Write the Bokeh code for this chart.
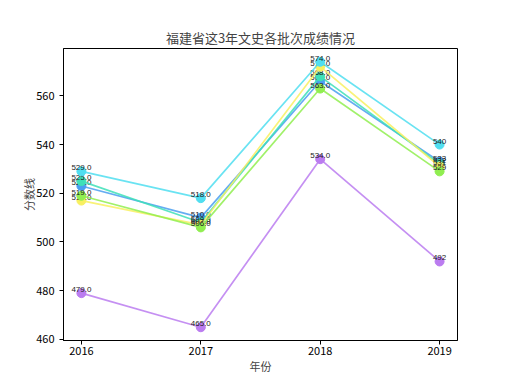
from bokeh.plotting import figure
from bokeh.models import Range1d, FixedTicker, ColumnDataSource
from bokeh.embed import file_html
from bokeh.resources import INLINE

years = [2016, 2017, 2018, 2019]
s_cyan = [529, 518, 574, 540]
s_teal = [525, 508, 568, 532]
s_blue = [523, 510, 566, 533]
s_yellow = [517, 507, 572, 531]
s_green = [519, 506, 563, 529]
s_purple = [479, 465, 534, 492]

series = [
    (s_purple, "#bb7cf0"),
    (s_blue, "#4a9ff0"),
    (s_teal, "#3ee0b8"),
    (s_yellow, "#f8f060"),
    (s_green, "#90ee50"),
    (s_cyan, "#50def0"),
]

FONT = "Noto Sans CJK SC"

p = figure(frame_width=394, frame_height=292, output_backend="svg", toolbar_location=None,
           x_range=Range1d(2015.85, 2019.15), y_range=Range1d(459.55, 579.45),
           min_border_left=63, min_border_right=10, min_border_top=48, min_border_bottom=20)

p.title.text = "福建省这3年文史各批次成绩情况"
p.title.align = "center"
p.title.text_font = FONT
p.title.text_font_size = "13px"
p.title.text_font_style = "normal"
p.title.offset = 0
p.title.standoff = 4

p.xgrid.visible = False
p.ygrid.visible = False
p.outline_line_color = "black"
p.outline_line_width = 1

p.xaxis.ticker = FixedTicker(ticks=years)
p.yaxis.ticker = FixedTicker(ticks=[460, 480, 500, 520, 540, 560])
for ax in (p.xaxis[0], p.yaxis[0]):
    ax.major_label_text_font = FONT
    ax.major_label_text_font_size = "11px"
    ax.axis_label_text_font = FONT
    ax.axis_label_text_font_size = "11px"
    ax.axis_label_text_font_style = "normal"
    ax.minor_tick_line_color = None
    ax.major_tick_out = 4
    ax.major_tick_in = 0
    ax.major_label_standoff = 2
    ax.axis_line_color = "black"
    ax.major_tick_line_color = "black"
    ax.major_label_text_color = "black"
p.yaxis.major_label_standoff = 5
p.xaxis.axis_label = "年份"
p.yaxis.axis_label = "分数线"
p.yaxis.axis_label_standoff = -4
p.xaxis.axis_label_standoff = 0

for vals, col in series:
    labels = [f"{v:.1f}" if y != 2019 else f"{v}" for y, v in zip(years, vals)]
    src = ColumnDataSource(dict(x=years, y=vals, t=labels))
    p.line("x", "y", source=src, line_color=col, line_width=1.7, line_alpha=0.85)
    p.scatter("x", "y", source=src, size=9, fill_color=col, line_color=col, fill_alpha=1)
    p.text("x", "y", text="t", source=src, text_align="center", text_baseline="bottom",
           text_font_size="8px", text_color="#222222", y_offset=-1)

open("out.html", "w").write(file_html(p, INLINE))
